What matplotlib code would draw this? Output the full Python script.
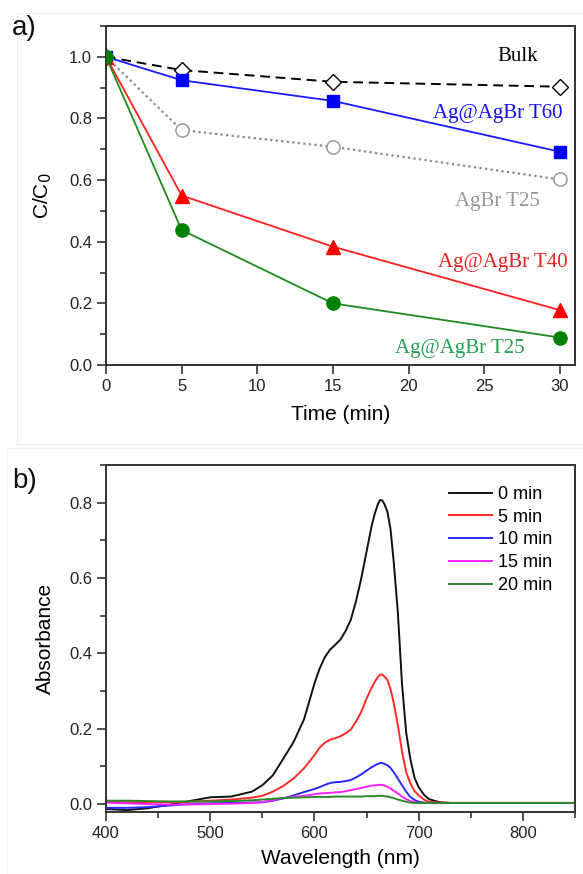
import matplotlib
matplotlib.use("Agg")
import matplotlib.pyplot as plt
from matplotlib.ticker import MultipleLocator, FormatStrFormatter
from matplotlib.patches import Rectangle

plt.rcParams['font.family'] = ['Liberation Sans', 'DejaVu Sans']

# ---------------- panel a: photodegradation kinetics ----------------
time_min = [0, 5, 15, 30]
bulk = [1.0, 0.957, 0.919, 0.903]
ag_agbr_t60 = [1.0, 0.924, 0.857, 0.692]
agbr_t25 = [1.0, 0.762, 0.708, 0.602]
ag_agbr_t40 = [1.0, 0.550, 0.384, 0.178]
ag_agbr_t25 = [1.0, 0.438, 0.200, 0.089]

# ---------------- panel b: absorption spectra ----------------
wavelength = [400, 420, 440, 460, 480, 500, 520, 540, 550, 560, 570, 580, 590,
              600, 605, 610, 615, 620, 625, 630, 635, 640, 645, 650,
              655, 658, 661, 663, 665, 667, 670, 673, 676, 680, 684, 688, 692,
              696, 700, 705, 710, 720, 730, 750, 800, 850]
abs_0min = [-0.013, -0.016, -0.011, -0.002, 0.008, 0.018, 0.020, 0.033, 0.050,
            0.076, 0.120, 0.165, 0.225, 0.320, 0.360, 0.390, 0.410, 0.423, 0.437,
            0.460, 0.490, 0.540, 0.600, 0.670,
            0.740, 0.772, 0.797, 0.807, 0.806, 0.797, 0.776, 0.730, 0.645, 0.510,
            0.320, 0.190, 0.120,
            0.070, 0.045, 0.025, 0.013, 0.005, 0.003, 0.003, 0.003, 0.003]
abs_5min = [0.006, 0.006, 0.005, 0.005, 0.006, 0.009, 0.012, 0.017, 0.022, 0.033,
            0.048, 0.068, 0.095, 0.130, 0.150, 0.163, 0.171, 0.175, 0.180, 0.188,
            0.198, 0.220, 0.245, 0.280,
            0.310, 0.325, 0.338, 0.343, 0.344, 0.339, 0.330, 0.305, 0.270, 0.210,
            0.140, 0.085, 0.055,
            0.035, 0.023, 0.012, 0.006, 0.004, 0.003, 0.003, 0.003, 0.003]
abs_10min = [-0.010, -0.010, -0.008, -0.004, 0.000, 0.002, 0.003, 0.004, 0.005,
             0.009, 0.015, 0.023, 0.032, 0.040, 0.045, 0.051, 0.056, 0.058, 0.059,
             0.061, 0.064, 0.071, 0.079, 0.089,
             0.098, 0.103, 0.107, 0.109, 0.109, 0.107, 0.103, 0.096, 0.085, 0.068,
             0.050, 0.033, 0.019,
             0.011, 0.006, 0.004, 0.003, 0.003, 0.003, 0.003, 0.003, 0.003]
abs_15min = [0.004, 0.002, 0.000, -0.001, -0.001, 0.000, 0.001, 0.003, 0.005,
             0.011, 0.016, 0.019, 0.022, 0.026, 0.028, 0.029, 0.030, 0.031, 0.032,
             0.034, 0.037, 0.040, 0.043, 0.046,
             0.049, 0.050, 0.051, 0.051, 0.051, 0.049, 0.046, 0.041, 0.036, 0.028,
             0.020, 0.013, 0.008,
             0.005, 0.003, 0.003, 0.003, 0.003, 0.003, 0.003, 0.003, 0.003]
abs_20min = [0.009, 0.009, 0.008, 0.007, 0.007, 0.007, 0.008, 0.010, 0.012,
             0.014, 0.016, 0.017, 0.018, 0.019, 0.019, 0.019, 0.019, 0.020, 0.020,
             0.020, 0.020, 0.020, 0.020, 0.021,
             0.021, 0.021, 0.022, 0.022, 0.022, 0.021, 0.020, 0.018, 0.016, 0.012,
             0.009, 0.006, 0.004,
             0.003, 0.003, 0.003, 0.003, 0.003, 0.003, 0.003, 0.003, 0.003]
spectra_labels = ['0 min', '5 min', '10 min', '15 min', '20 min']
spectra_colors = ['#111111', '#ff2a2a', '#2a2aff', '#ff22ff', '#2a8a2a']

fig = plt.figure(figsize=(5.83, 8.74), dpi=100)
fig.patch.set_facecolor('white')

# faint panel frames
fig.add_artist(Rectangle((17 / 583, 1 - 444 / 874), 1.0, (444 - 13) / 874,
                         transform=fig.transFigure, fill=False,
                         edgecolor='#eeeeee', lw=0.8))
fig.add_artist(Rectangle((7 / 583, 0.0), 1.0, (874 - 448) / 874,
                         transform=fig.transFigure, fill=False,
                         edgecolor='#eeeeee', lw=0.8))

spine_col = '#333333'


def style_axes(ax):
    for s in ax.spines.values():
        s.set_linewidth(1.4)
        s.set_color(spine_col)
    ax.tick_params(which='both', direction='out', top=False, right=False,
                   colors=spine_col, labelcolor='#222222', labelsize=12)
    ax.tick_params(which='major', length=6.5, width=1.2)
    ax.tick_params(which='minor', length=4, width=1.2)


# ---- panel a ----
axa = fig.add_axes([106 / 583, 1 - 365 / 874, 469 / 583, 339 / 874])
style_axes(axa)
axa.plot(time_min, bulk, ls=(0, (5, 3)), color='black', lw=1.4,
         marker='D', ms=8.5, mfc='white', mec='black', mew=1.0, zorder=3)
axa.plot(time_min, ag_agbr_t60, ls='-', color='#1a1aff', lw=1.3,
         marker='s', ms=8.5, mfc='#0000ff', mec='#0000ff', zorder=3)
axa.plot(time_min, agbr_t25, ls=(0, (1, 1.5)), color='#888888', lw=1.6,
         marker='o', ms=9.5, mfc='white', mec='#999999', mew=1.1, zorder=3)
axa.plot(time_min, ag_agbr_t40, ls='-', color='#ff2020', lw=1.3,
         marker='^', ms=10.5, mfc='#ff0000', mec='#ff0000', zorder=3)
axa.plot(time_min, ag_agbr_t25, ls='-', color='#1e8c1e', lw=1.3,
         marker='o', ms=9.5, mfc='#008000', mec='#008000', zorder=3)
axa.set_xlim(0, 31)
axa.set_ylim(0, 1.1)
axa.xaxis.set_major_locator(MultipleLocator(5))
axa.yaxis.set_major_locator(MultipleLocator(0.2))
axa.yaxis.set_minor_locator(MultipleLocator(0.1))
axa.yaxis.set_major_formatter(FormatStrFormatter('%.1f'))
axa.set_xlabel('Time (min)', fontsize=15, labelpad=8)
axa.set_ylabel('C/C$_0$', fontsize=15, labelpad=11)

serif = ['Liberation Serif', 'DejaVu Serif']
axa.text(27.2, 1.002, 'Bulk', family=serif, fontsize=15, color='black',
         ha='center', va='center')
axa.text(25.9, 0.817, 'Ag@AgBr T60', family=serif, fontsize=15, color='#1010ff',
         ha='center', va='center')
axa.text(25.9, 0.529, 'AgBr T25', family=serif, fontsize=15, color='#999999',
         ha='center', va='center')
axa.text(26.2, 0.334, 'Ag@AgBr T40', family=serif, fontsize=15, color='#ee2020',
         ha='center', va='center')
axa.text(23.4, 0.055, 'Ag@AgBr T25', family=serif, fontsize=15, color='#22a050',
         ha='center', va='center')

fig.text(12 / 583, 1 - 35 / 874, 'a)', fontsize=20, color='#111111')

# ---- panel b ----
axb = fig.add_axes([106 / 583, 1 - 812 / 874, 469 / 583, 347 / 874])
style_axes(axb)
for vals, lab, col in zip([abs_0min, abs_5min, abs_10min, abs_15min, abs_20min],
                          spectra_labels, spectra_colors):
    axb.plot(wavelength, vals, color=col, lw=1.4, label=lab)
axb.set_xlim(400, 850)
axb.set_ylim(-0.021, 0.9)
axb.xaxis.set_major_locator(MultipleLocator(100))
axb.xaxis.set_minor_locator(MultipleLocator(50))
axb.yaxis.set_major_locator(MultipleLocator(0.2))
axb.yaxis.set_minor_locator(MultipleLocator(0.1))
axb.yaxis.set_major_formatter(FormatStrFormatter('%.1f'))
axb.set_xlabel('Wavelength (nm)', fontsize=15, labelpad=6)
axb.set_ylabel('Absorbance', fontsize=15, labelpad=10)
leg = axb.legend(loc='upper left', bbox_to_anchor=(0.731, 0.94), frameon=False,
                 fontsize=13, handlelength=2.4, handletextpad=0.3,
                 labelspacing=0.32, borderpad=0, borderaxespad=0)

fig.text(12 / 583, 1 - 488 / 874, 'b)', fontsize=20, color='#111111')

fig.savefig('out.png', dpi=100, facecolor='white')
